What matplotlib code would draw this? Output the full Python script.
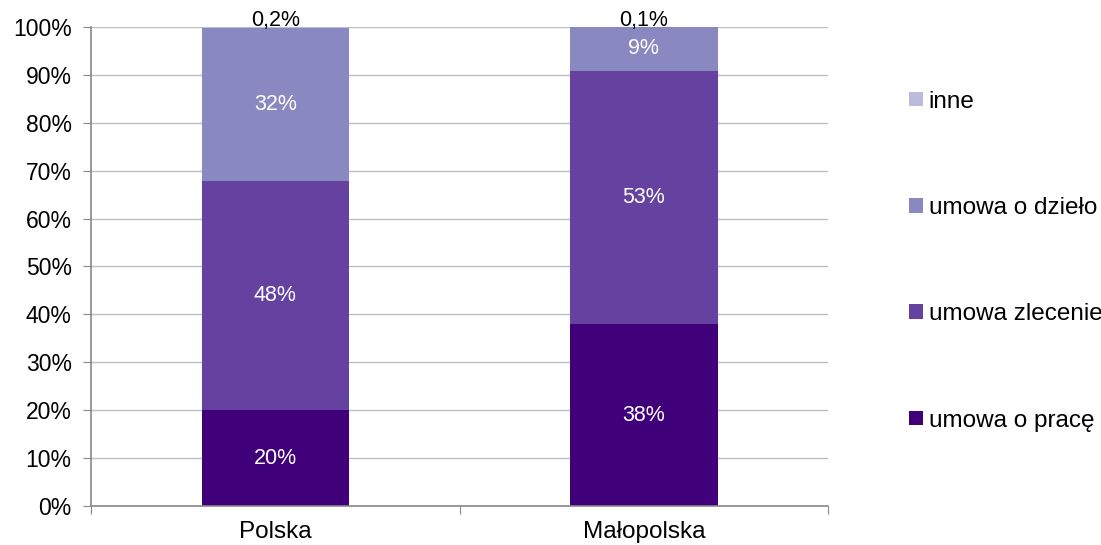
import matplotlib
matplotlib.use('Agg')
import matplotlib.pyplot as plt
import matplotlib.ticker as mticker
import numpy as np

plt.rcParams.update({
    'font.family': ['Liberation Sans', 'DejaVu Sans'],
    'font.size': 16.5,
})

# --- data: share of contract types (%) ---
regions = ['Polska', 'Małopolska']
series = ['umowa o pracę', 'umowa zlecenie', 'umowa o dzieło', 'inne']
praca = [20, 38]
zlecenie = [48, 53]
dzielo = [32, 9]
inne = [0.2, 0.1]
labels_txt = [['20%', '38%'], ['48%', '53%'], ['32%', '9%'], ['0,2%', '0,1%']]

colors = ['#3F007A', '#6542A0', '#8A88C0', '#BBBBDB']

values = np.array([praca, zlecenie, dzielo, inne], dtype=float)
shares = values / values.sum(axis=0) * 100  # 100% stacked

fig = plt.figure(figsize=(11.01, 5.45), dpi=100)
ax = fig.add_axes([0.0827, 0.0716, 0.6695, 0.8789])

x = np.arange(len(regions))
bottom = np.zeros(len(regions))
handles = []
for i, (name, col) in enumerate(zip(series, colors)):
    bars = ax.bar(x, shares[i], 0.4, bottom=bottom, color=col, label=name, zorder=2)
    handles.append(bars)
    for j, b in enumerate(bars):
        if i < 3:
            ax.text(b.get_x() + b.get_width() / 2, bottom[j] + shares[i][j] / 2,
                    labels_txt[i][j], ha='center', va='center', color='white',
                    fontsize=15.5, zorder=3)
        else:
            ax.text(b.get_x() + b.get_width() / 2, 101.3, labels_txt[i][j],
                    ha='center', va='center', color='black', fontsize=15.5,
                    zorder=3, clip_on=False)
    bottom += shares[i]

ax.set_xlim(-0.5, len(regions) - 0.5)
ax.set_ylim(0, 100)
ax.set_yticks(np.arange(0, 101, 10))
ax.yaxis.set_major_formatter(mticker.FuncFormatter(lambda v, _: f'{v:.0f}%'))
ax.yaxis.grid(True, color='#BEBEBE', linewidth=1.0, zorder=0)
ax.set_axisbelow(True)

# category labels centred under bars, tick marks between categories
ax.set_xticks(np.arange(-0.5, len(regions), 1.0))
ax.set_xticklabels([])
ax.set_xticks(x, minor=True)
ax.set_xticklabels(regions, minor=True, fontsize=17.5)
ax.tick_params(axis='x', which='minor', length=0, pad=11)
ax.tick_params(axis='x', which='major', length=6, color='#888888', direction='out')
ax.tick_params(axis='y', length=6, color='#888888', pad=8)

for s in ['top', 'right']:
    ax.spines[s].set_visible(False)
for s in ['left', 'bottom']:
    ax.spines[s].set_color('#888888')
    ax.spines[s].set_linewidth(1.2)

fig.legend(handles[::-1], series[::-1], loc='center left',
           bbox_to_anchor=(0.826, 0.521), frameon=False, fontsize=17.5,
           handlelength=0.55, handleheight=0.55, handletextpad=0.25,
           labelspacing=3.47, borderaxespad=0, borderpad=0)

fig.savefig('out.png', dpi=100)
plt.close()
